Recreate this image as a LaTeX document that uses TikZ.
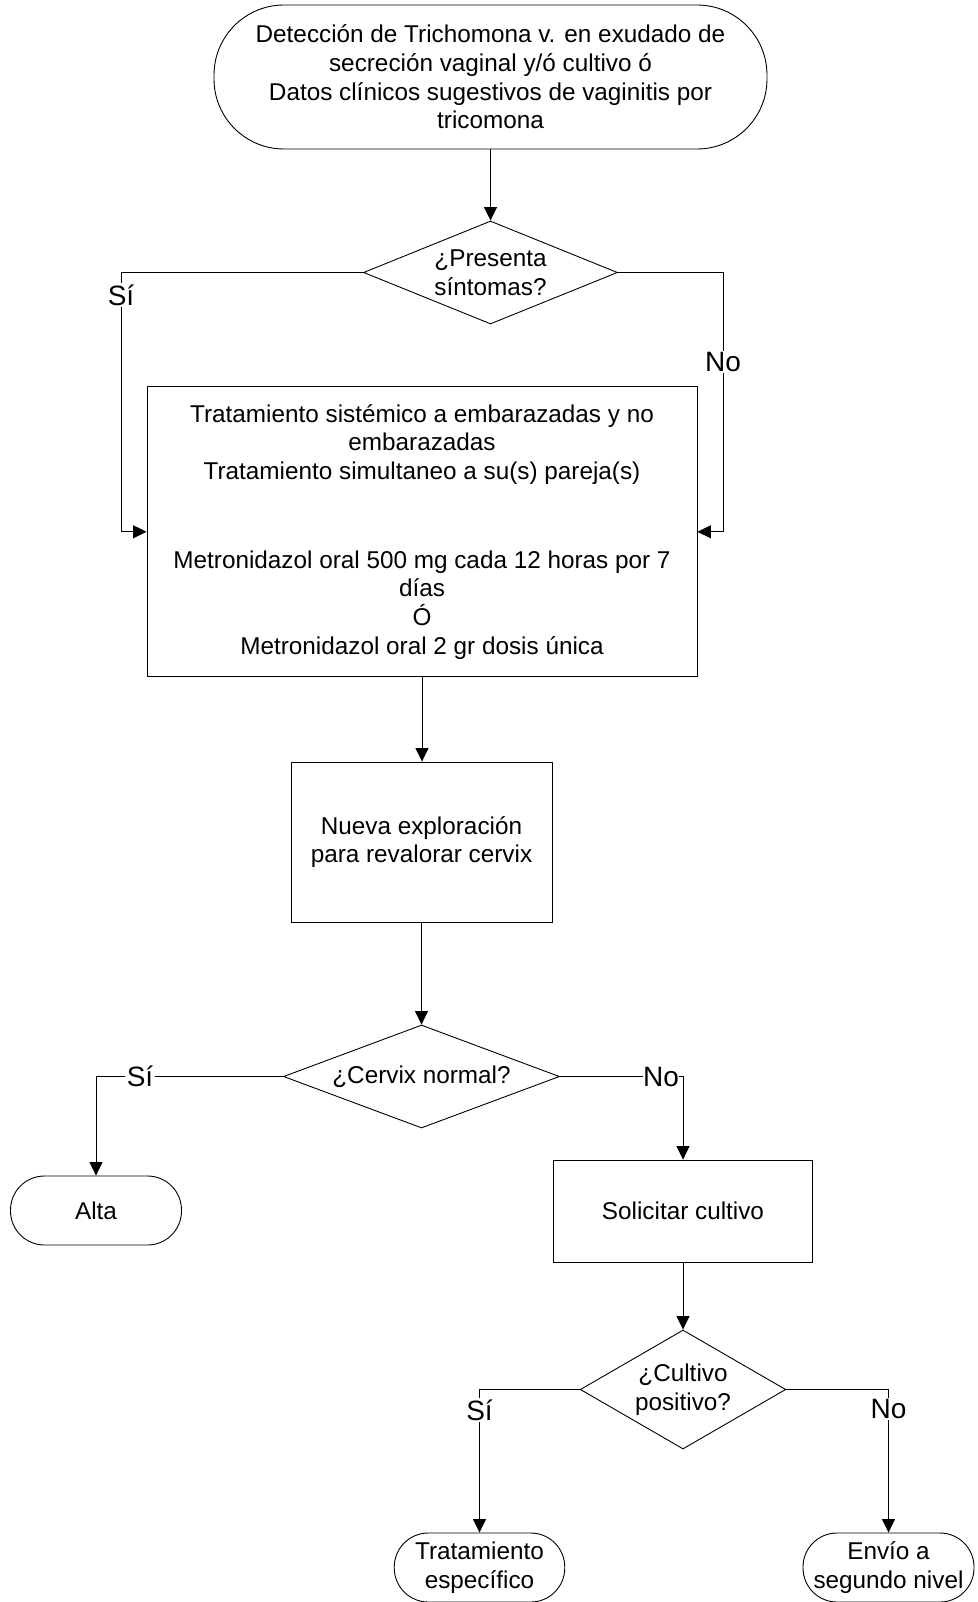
\documentclass[tikz,border=0pt]{standalone}
\usepackage{fontspec}
\setmainfont{Liberation Sans}
\usetikzlibrary{shapes.geometric,arrows.meta}
\begin{document}
\begin{tikzpicture}[x=1pt,y=-1pt,
  base/.style={draw=black,line width=0.9pt,inner sep=0pt,align=center,
    font=\fontsize{24.3}{28.7}\selectfont},
  term/.style={base,rounded corners=#1},
  proc/.style={base,rectangle},
  decision/.style={base,diamond},
  conn/.style={line width=0.9pt},
  arr/.style={conn,-{Triangle[length=13.5pt,width=13pt]}},
  lab/.style={fill=white,inner sep=1.5pt,font=\fontsize{28}{30}\selectfont}]
\useasboundingbox (0,0) rectangle (977,1602);

% nodes
\node[term=70pt,minimum width=553pt,minimum height=144pt] (start) at (490.5,77)
  {Detección de Trichomona v. en exudado de\\secreción vaginal y/ó cultivo ó\\Datos clínicos sugestivos de vaginitis por\\tricomona};
\node[decision,aspect=2.466,minimum width=254pt,minimum height=103pt] (d1) at (490.5,272.5)
  {¿Presenta\\síntomas?};
\node[proc,minimum width=550pt,minimum height=290pt] (box1) at (422,531.8)
  {Tratamiento sistémico a embarazadas y no\\embarazadas\\Tratamiento simultaneo a su(s) pareja(s)\\[60pt]Metronidazol oral 500 mg cada 12 horas por 7\\días\\Ó\\Metronidazol oral 2 gr dosis única};
\node[proc,minimum width=261pt,minimum height=160pt] (box2) at (421.5,842)
  {Nueva exploración\\para revalorar cervix};
\node[decision,aspect=2.68,minimum width=276pt,minimum height=103pt] (d2) at (421.5,1076.5)
  {¿Cervix normal?};
\node[term=34pt,minimum width=171pt,minimum height=69pt] (alta) at (96,1210.5)
  {Alta};
\node[proc,minimum width=258.5pt,minimum height=102pt] (sol) at (683,1211)
  {Solicitar cultivo};
\node[decision,aspect=1.727,minimum width=205.5pt,minimum height=119pt] (d3) at (683,1389.5)
  {¿Cultivo\\positivo?};
\node[term=34pt,minimum width=170.5pt,minimum height=69pt] (trat) at (479.5,1567.5)
  {Tratamiento\\específico};
\node[term=34pt,minimum width=171pt,minimum height=69pt] (envio) at (888.5,1567.5)
  {Envío a\\segundo nivel};

% helper coordinates
\coordinate (s1a) at (121,272.5);
\coordinate (s1b) at (121,531.8);
\coordinate (n1a) at (723,272.5);
\coordinate (n1b) at (723,531.8);
\coordinate (s2a) at (96,1076.5);
\coordinate (n2a) at (683,1076.5);
\coordinate (s3a) at (479.5,1389.5);
\coordinate (n3a) at (888.5,1389.5);

% connectors
\draw[arr] (start.south) -- (d1.north);
\draw[arr] (d1.west) -- (s1a) -- (s1b) -- (box1.west);
\draw[arr] (d1.east) -- (n1a) -- (n1b) -- (box1.east);
\draw[arr] (box1.south) -- (box1.south |- box2.north);
\draw[arr] (box2.south) -- (d2.north);
\draw[arr] (d2.west) -- (s2a) -- (alta.north);
\draw[arr] (d2.east) -- (n2a) -- (sol.north);
\draw[arr] (sol.south) -- (d3.north);
\draw[arr] (d3.west) -- (s3a) -- (trat.north);
\draw[arr] (d3.east) -- (n3a) -- (envio.north);

% labels
\node[lab] (l1) at (121,295) {Sí};
\node[lab] (l2) at (723,362) {No};
\node[lab] (l3) at (140,1076.5) {Sí};
\node[lab,inner sep=0.5pt] (l4) at (661,1076.5) {No};
\node[lab] (l5) at (479.5,1410) {Sí};
\node[lab] (l6) at (888.5,1409) {No};
\end{tikzpicture}
\end{document}
